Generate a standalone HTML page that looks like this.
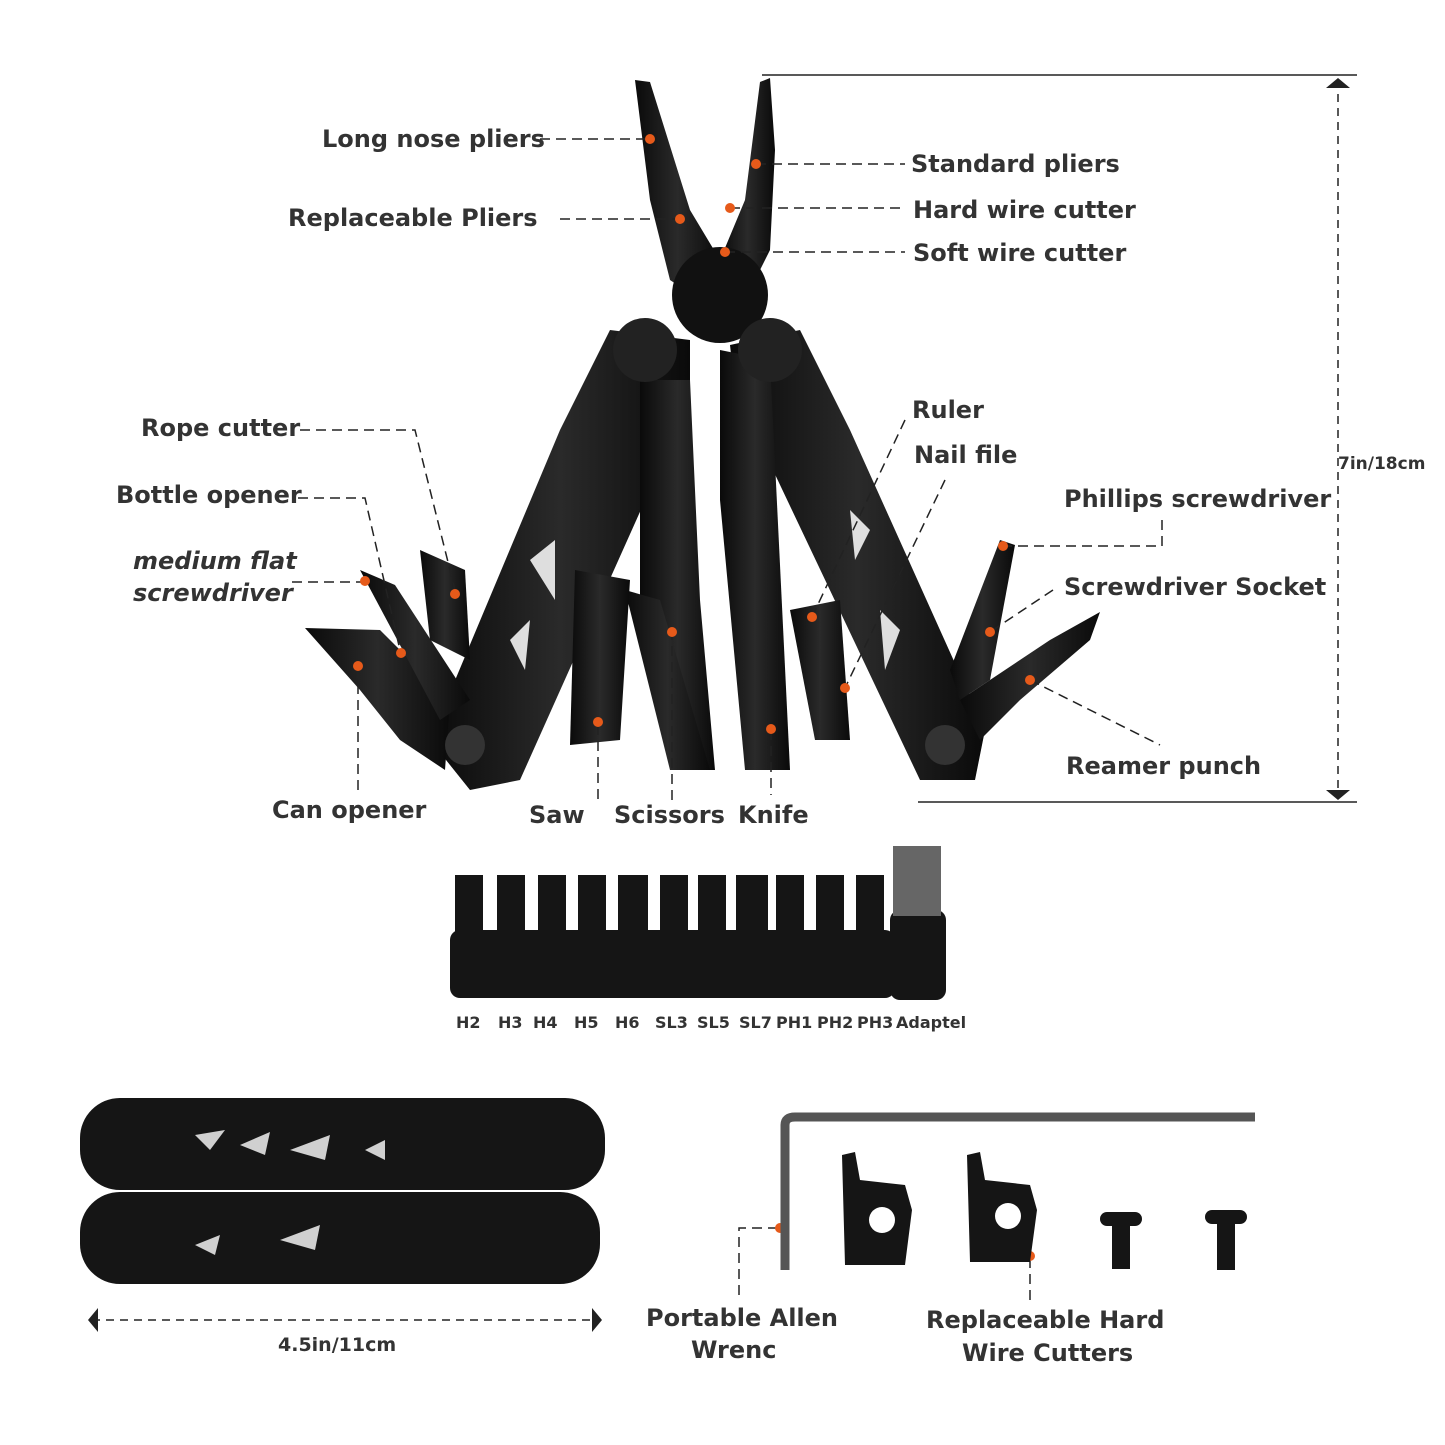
<!DOCTYPE html>
<html><head><meta charset="utf-8"><style>
html,body{margin:0;padding:0;background:#fff;}
svg{display:block}
text{font-family:"DejaVu Sans","Liberation Sans",sans-serif;font-weight:bold;fill:#333;}
</style></head><body>
<svg width="1445" height="1445" viewBox="0 0 1445 1445" xmlns="http://www.w3.org/2000/svg">
<defs>
<linearGradient id="g" x1="0" x2="1"><stop offset="0" stop-color="#0a0a0a"/><stop offset="0.5" stop-color="#2a2a2a"/><stop offset="1" stop-color="#0a0a0a"/></linearGradient>
</defs>
<!-- dimension lines -->
<g stroke="#222" stroke-width="1.5" fill="none">
<line x1="762" y1="75" x2="1357" y2="75"/>
<line x1="918" y1="802" x2="1357" y2="802"/>
<line x1="1338" y1="80" x2="1338" y2="797" stroke-dasharray="8,6"/>
<line x1="92" y1="1320" x2="598" y2="1320" stroke-dasharray="8,6"/>
</g>
<polygon points="1338,78 1326,88 1350,88" fill="#222"/>
<polygon points="1338,800 1326,790 1350,790" fill="#222"/>
<polygon points="88,1320 98,1308 98,1332" fill="#222"/>
<polygon points="602,1320 592,1308 592,1332" fill="#222"/>

<!-- main tool -->
<g fill="url(#g)">
<polygon points="635,80 650,82 690,210 720,260 700,300 670,280 650,200"/>
<polygon points="770,78 760,82 745,200 720,260 745,300 770,250 775,150"/>
<circle cx="720" cy="295" r="48" fill="#111"/>
<polygon points="610,330 690,340 690,400 520,780 470,790 430,740 560,430"/>
<polygon points="800,330 730,345 735,390 920,780 975,780 985,730 850,430"/>
<polygon points="720,350 770,360 790,770 745,770 720,500"/>
<polygon points="640,380 690,380 700,600 715,770 680,770 640,610"/>
<polygon points="625,590 660,600 710,770 670,770"/>
<polygon points="575,570 630,580 620,740 570,745"/>
<polygon points="790,610 840,600 850,740 815,740"/>
<polygon points="305,628 380,630 450,700 445,770 400,740 360,690"/>
<polygon points="360,570 395,585 470,700 440,720"/>
<polygon points="420,550 465,570 470,660 430,640"/>
<polygon points="1000,540 1015,545 990,680 960,700 950,670"/>
<polygon points="1100,612 1090,640 1020,700 980,740 960,700 1050,640"/>
<circle cx="645" cy="350" r="32" fill="#222"/>
<circle cx="770" cy="350" r="32" fill="#222"/>
<circle cx="465" cy="745" r="20" fill="#333"/>
<circle cx="945" cy="745" r="20" fill="#333"/>
</g>
<g fill="#fff" opacity="0.85">
<polygon points="530,560 555,540 555,600"/><polygon points="510,640 530,620 525,670"/>
<polygon points="850,510 870,530 855,560"/><polygon points="880,610 900,630 885,670"/>
</g>
<!-- labels dashed connectors -->
<g stroke="#222" stroke-width="1.5" fill="none" stroke-dasharray="10,6">
<path d="M540,139 H648"/><path d="M560,219 H680"/>
<path d="M756,164 H905"/><path d="M730,208 H905"/><path d="M725,252 H905"/>
<path d="M300,430 H415 L455,590"/><path d="M298,498 H365 L400,650"/><path d="M292,582 H365"/>
<path d="M358,668 V792"/><path d="M598,725 V800"/><path d="M672,630 V800"/><path d="M771,730 V795"/>
<path d="M905,420 L812,617"/><path d="M945,480 L845,688"/>
<path d="M1162,520 V546 H1003"/><path d="M1053,590 L990,632"/><path d="M1030,680 L1160,745"/>
<path d="M739,1295 V1228 H780"/><path d="M1030,1258 V1305"/>
</g>
<g fill="#e65a1a">
<circle cx="650" cy="139" r="5"/><circle cx="680" cy="219" r="5"/><circle cx="756" cy="164" r="5"/><circle cx="730" cy="208" r="5"/><circle cx="725" cy="252" r="5"/>
<circle cx="455" cy="594" r="5"/><circle cx="401" cy="653" r="5"/><circle cx="365" cy="581" r="5"/><circle cx="358" cy="666" r="5"/>
<circle cx="598" cy="722" r="5"/><circle cx="672" cy="632" r="5"/><circle cx="771" cy="729" r="5"/><circle cx="812" cy="617" r="5"/><circle cx="845" cy="688" r="5"/>
<circle cx="1003" cy="546" r="5"/><circle cx="990" cy="632" r="5"/><circle cx="1030" cy="680" r="5"/><circle cx="780" cy="1228" r="5"/><circle cx="1030" cy="1256" r="5"/>
</g>
<g font-size="24">
<text x="322" y="147">Long nose pliers</text>
<text x="288" y="226">Replaceable Pliers</text>
<text x="911" y="172">Standard pliers</text>
<text x="913" y="218">Hard wire cutter</text>
<text x="913" y="261">Soft wire cutter</text>
<text x="141" y="436">Rope cutter</text>
<text x="116" y="503">Bottle opener</text>
<text x="133" y="569" font-style="italic" font-weight="normal">medium flat</text>
<text x="133" y="601" font-style="italic" font-weight="normal">screwdriver</text>
<text x="272" y="818">Can opener</text>
<text x="529" y="823">Saw</text>
<text x="614" y="823">Scissors</text>
<text x="738" y="823">Knife</text>
<text x="912" y="418">Ruler</text>
<text x="914" y="463">Nail file</text>
<text x="1064" y="507">Phillips screwdriver</text>
<text x="1064" y="595">Screwdriver Socket</text>
<text x="1066" y="774">Reamer punch</text>
<text x="646" y="1326">Portable Allen</text>
<text x="691" y="1358">Wrenc</text>
<text x="926" y="1328">Replaceable Hard</text>
<text x="962" y="1361">Wire Cutters</text>
</g>
<text x="1338" y="469" font-size="17">7in/18cm</text>
<text x="278" y="1351" font-size="19">4.5in/11cm</text>
<!-- bits -->
<g fill="#151515">
<rect x="450" y="930" width="445" height="68" rx="10"/>
<rect x="890" y="910" width="56" height="90" rx="10"/>
<rect x="893" y="846" width="48" height="70" fill="#666"/>
<rect x="455" y="875" width="28" height="60"/><rect x="497" y="875" width="28" height="60"/><rect x="538" y="875" width="28" height="60"/><rect x="578" y="875" width="28" height="60"/><rect x="618" y="875" width="30" height="60"/><rect x="660" y="875" width="28" height="60"/><rect x="698" y="875" width="28" height="60"/><rect x="736" y="875" width="32" height="60"/><rect x="776" y="875" width="28" height="60"/><rect x="816" y="875" width="28" height="60"/><rect x="856" y="875" width="28" height="60"/>
</g>
<g font-size="16">
<text x="456" y="1028">H2</text><text x="498" y="1028">H3</text><text x="533" y="1028">H4</text><text x="574" y="1028">H5</text><text x="615" y="1028">H6</text><text x="655" y="1028">SL3</text><text x="697" y="1028">SL5</text><text x="739" y="1028">SL7</text><text x="776" y="1028">PH1</text><text x="817" y="1028">PH2</text><text x="857" y="1028">PH3</text><text x="896" y="1028">Adaptel</text>
</g>
<!-- folded tool -->
<g fill="#151515">
<rect x="80" y="1098" width="525" height="92" rx="40"/>
<rect x="80" y="1192" width="520" height="92" rx="40"/>
</g>
<g fill="#fff" opacity="0.8">
<polygon points="195,1135 225,1130 210,1150"/><polygon points="240,1145 270,1132 265,1155"/><polygon points="290,1150 330,1135 325,1160"/><polygon points="365,1150 385,1140 385,1160"/>
<polygon points="195,1245 220,1235 215,1255"/><polygon points="280,1240 320,1225 315,1250"/>
</g>
<!-- allen & cutters -->
<path d="M785,1270 V1125 Q785,1117 795,1117 H1255" stroke="#555" stroke-width="9" fill="none"/>
<g fill="#151515">
<path d="M842,1155 L855,1152 860,1180 905,1185 912,1210 905,1265 845,1265 Z"/>
<path d="M967,1155 L980,1152 985,1180 1030,1185 1037,1210 1030,1262 970,1262 Z"/>
<rect x="1100" y="1212" width="42" height="14" rx="7"/><rect x="1112" y="1224" width="18" height="45"/>
<rect x="1205" y="1210" width="42" height="14" rx="7"/><rect x="1217" y="1222" width="18" height="48"/>
</g>
<circle cx="882" cy="1220" r="13" fill="#fff"/><circle cx="1008" cy="1216" r="13" fill="#fff"/>
</svg>
</body></html>
